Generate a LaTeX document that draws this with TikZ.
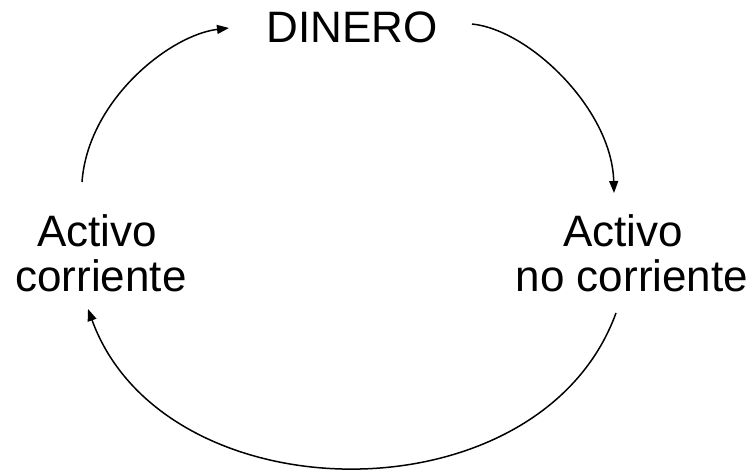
\documentclass[tikz,border=0pt]{standalone}
\usepackage{fontspec}
\setmainfont{Liberation Sans}
\usetikzlibrary{arrows.meta}
\begin{document}
\begin{tikzpicture}[x=1pt,y=-1pt,
  lbl/.style={inner sep=0pt,anchor=base,font=\fontsize{44}{45}\selectfont},
  flow/.style={line width=1.5pt,-{Triangle[length=12pt,width=9pt]}}]
\useasboundingbox (0,0) rectangle (754,470);
\node[lbl] (din) at (352,43) {DINERO};
\node[lbl] (ac) at (101,246) {\setlength{\tabcolsep}{0pt}\begin{tabular}[t]{c}Activo\hspace{8pt}\mbox{}\\corriente\end{tabular}};
\node[lbl] (anc) at (632,246) {\setlength{\tabcolsep}{0pt}\begin{tabular}[t]{c}Activo\hspace{18pt}\mbox{}\\no corriente\end{tabular}};
\coordinate (a1s) at (82,182);
\coordinate (a1e) at (229,28);
\coordinate (a2s) at (472,24);
\coordinate (a2e) at (614,193);
\coordinate (a3s) at (616,313);
\coordinate (a3e) at (88,309);
\draw[flow] (a1s) .. controls (88,100) and (170,35) .. (a1e);
\draw[flow] (a2s) .. controls (530,30) and (612,110) .. (a2e);
\draw[flow] (a3s) .. controls (540,522) and (164,518) .. (a3e);
\end{tikzpicture}
\end{document}
